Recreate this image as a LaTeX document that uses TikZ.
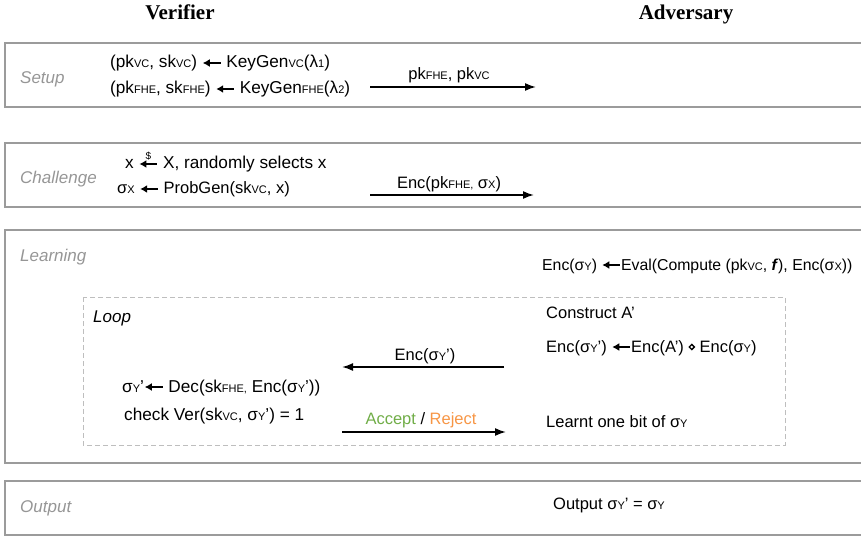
\documentclass[tikz,border=0pt]{standalone}
\usepackage{fontspec}
\setmainfont{Liberation Sans}
\newfontfamily\hdrfont{Liberation Serif}
\usetikzlibrary{arrows.meta}
\definecolor{boxgray}{RGB}{155,155,155}
\definecolor{lblgray}{RGB}{150,150,150}
\definecolor{loopgray}{RGB}{190,190,190}
\definecolor{acc}{RGB}{112,173,71}
\definecolor{rej}{RGB}{247,150,70}
\newcommand{\sbs}[1]{{\fontsize{11}{11}\selectfont #1}}
\newcommand{\larr}{\tikz[x=1pt,y=1pt,baseline=-5pt]\draw[line width=1.7pt,{Latex[length=7pt,width=8pt]}-] (0,0)--(18,0);}
\newcommand{\sarr}{\tikz[x=1pt,y=1pt,baseline=-5pt]{\draw[line width=1.7pt,{Latex[length=7pt,width=8pt]}-] (0,0)--(18,0); \node[inner sep=0pt,font=\fontsize{10}{10}\selectfont,anchor=south] (dollar) at (9,4) {\$};}}
\newcommand{\dmd}{\tikz[x=1pt,y=1pt,baseline=-5pt]\draw[line width=1.3pt] (0,2.6)--(2.6,0)--(0,-2.6)--(-2.6,0)--cycle;}
\begin{document}
\begin{tikzpicture}[x=1pt,y=-1pt,
  txt/.style={anchor=base west,inner sep=0pt,font=\fontsize{16.5}{18}\selectfont},
  vtxt/.style={anchor=base west,inner sep=0pt,font=\fontsize{17.2}{18}\selectfont},
  ctxt/.style={anchor=base,inner sep=0pt,font=\fontsize{16.5}{18}\selectfont},
  phase/.style={anchor=base west,inner sep=0pt,text=lblgray,font=\fontsize{17}{18}\selectfont\itshape},
  hdr/.style={anchor=base,inner sep=0pt,font=\fontsize{21}{22}\selectfont\hdrfont\bfseries},
  stagebox/.style={draw=boxgray,line width=1.6pt},
  msg/.style={line width=1.7pt,-{Latex[length=11pt,width=8pt]}}]
\path[use as bounding box,clip] (0,0) rectangle (861,537);
% headers
\node[hdr] (hv) at (180,20) {Verifier};
\node[hdr] (ha) at (686,20) {Adversary};
% boxes
\draw[stagebox] (5,43) rectangle (880,107);
\draw[stagebox] (5,143) rectangle (880,207);
\draw[stagebox] (5,230) rectangle (880,463);
\draw[stagebox] (5,481) rectangle (880,535);
\draw[loopgray,line width=1pt,dash pattern=on 5pt off 3pt] (83,297) rectangle (785,445);
% Setup
\node[phase] (setup) at (20,84) {Setup};
\node[vtxt] (s1) at (110,68) {(pk\sbs{VC}, sk\sbs{VC}) \larr{} KeyGen\sbs{VC}(λ\sbs{1})};
\node[vtxt] (s2) at (110,94) {(pk\sbs{FHE}, sk\sbs{FHE}) \larr{} KeyGen\sbs{FHE}(λ\sbs{2})};
\coordinate (s3a) at (370,87);
\coordinate (s3b) at (536,87);
\draw[msg] (s3a) -- (s3b);
\node[ctxt] (s3l) at (449,80) {pk\sbs{FHE}, pk\sbs{VC}};
% Challenge
\node[phase] (chal) at (20,184) {Challenge};
\node[vtxt] (c1) at (125,169) {x \sarr{} X, randomly selects x};
\node[txt] (c2) at (117,194) {σ\sbs{X} \larr{} ProbGen(sk\sbs{VC}, x)};
\coordinate (c3a) at (370,195);
\coordinate (c3b) at (534,195);
\draw[msg] (c3a) -- (c3b);
\node[ctxt] (c3l) at (449,189) {Enc(pk\sbs{FHE,} σ\sbs{X})};
% Learning
\node[phase] (learn) at (20,261) {Learning};
\node[anchor=base west,inner sep=0pt,font=\fontsize{15.8}{18}\selectfont] (l1) at (542,270) {Enc(σ\sbs{Y}) \larr{}Eval(Compute (pk\sbs{VC}, \textbf{\textit{f}}), Enc(σ\sbs{X}))};
\node[anchor=base west,inner sep=0pt,font=\fontsize{17}{18}\selectfont\itshape] (loop) at (93,322) {Loop};
\node[txt] (l2) at (546,318) {Construct A’};
\node[txt] (l3) at (546,352) {Enc(σ\sbs{Y}’) \larr{}Enc(A’) \dmd{} Enc(σ\sbs{Y})};
\coordinate (l4a) at (504,367);
\coordinate (l4b) at (342,367);
\draw[msg] (l4a) -- (l4b);
\node[ctxt] (l4l) at (425,360) {Enc(σ\sbs{Y}’)};
\node[vtxt] (l5) at (122,392) {σ\sbs{Y}’\larr{} Dec(sk\sbs{FHE,} Enc(σ\sbs{Y}’))};
\node[vtxt] (l6) at (124,420) {check Ver(sk\sbs{VC}, σ\sbs{Y}’) = 1};
\coordinate (l7a) at (342,432);
\coordinate (l7b) at (506,432);
\draw[msg] (l7a) -- (l7b);
\node[ctxt] (l7l) at (421,424) {\textcolor{acc}{Accept} / \textcolor{rej}{Reject}};
\node[txt] (l8) at (546,427) {Learnt one bit of σ\sbs{Y}};
% Output
\node[phase] (outp) at (20,512) {Output};
\node[txt] (o1) at (553,509) {Output σ\sbs{Y}’ = σ\sbs{Y}};
\end{tikzpicture}
\end{document}
